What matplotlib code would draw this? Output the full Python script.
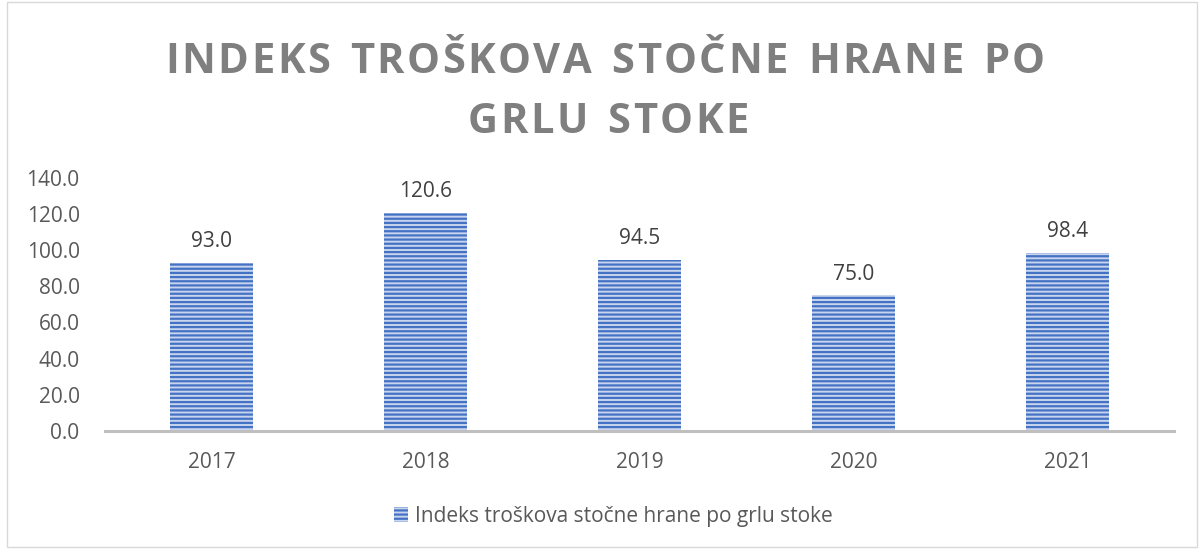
import matplotlib
matplotlib.use("Agg")
import matplotlib.pyplot as plt
from matplotlib.patches import Rectangle
from matplotlib.transforms import IdentityTransform

years = ["2017", "2018", "2019", "2020", "2021"]
values = [93.0, 120.6, 94.5, 75.0, 98.4]
series_name = "Indeks troškova stočne hrane po grlu stoke"
title_lines = ["INDEKS TROŠKOVA STOČNE HRANE PO", "GRLU STOKE"]

plt.rcParams["font.family"] = ["Open Sans", "DejaVu Sans"]
plt.rcParams["hatch.linewidth"] = 1.6
plt.rcParams["hatch.color"] = "#4472C4"

fig = plt.figure(figsize=(12.02, 5.49), dpi=100)
ax = fig.add_axes([0.087, 0.215, 0.89, 0.461])

ax.bar(range(len(years)), values, width=0.39, color="#C9D5EE",
       edgecolor="#4472C4", linewidth=0, hatch="----", label=series_name)
for i, v in enumerate(values):
    ax.text(i, v + 6, f"{v:.1f}", ha="center", va="bottom",
            fontsize=15, color="#404040")

ax.set_xlim(-0.5, len(years) - 0.5)
ax.set_ylim(0, 140)
ax.set_yticks(range(0, 141, 20))
ax.set_yticklabels([f"{t:.1f}" for t in range(0, 141, 20)])
ax.set_xticks(range(len(years)))
ax.set_xticklabels(years)
ax.tick_params(axis="both", length=0, labelsize=15, labelcolor="#595959")
ax.tick_params(axis="x", pad=15)
ax.tick_params(axis="y", pad=18)
for s in ["top", "right", "left"]:
    ax.spines[s].set_visible(False)
ax.spines["bottom"].set_color("#BFBFBF")
ax.spines["bottom"].set_linewidth(2.2)

# title with wide letter spacing, drawn char by char in pixel coords
renderer = fig.canvas.get_renderer()
title_kw = dict(fontsize=30, fontweight="bold", color="#7F7F7F")


def char_widths(s):
    ws = []
    for ch in s:
        t = fig.text(0, 0, ch if ch != " " else "n", **title_kw)
        w = t.get_window_extent(renderer).width
        t.remove()
        ws.append(w * (0.55 if ch == " " else 1.0))
    return ws


w1 = char_widths(title_lines[0])
spacing = (880 - sum(w1)) / (len(w1) - 1)
for line, base_y, cx in [(title_lines[0], 549 - 73, 605), (title_lines[1], 549 - 133, 608)]:
    ws = char_widths(line)
    total = sum(ws) + spacing * (len(ws) - 1)
    x = cx - total / 2
    for ch, w in zip(line, ws):
        fig.text(x, base_y, ch, transform=IdentityTransform(), ha="left",
                 va="baseline", **title_kw)
        x += w + spacing

leg = fig.legend(loc="center", bbox_to_anchor=(0.51, 0.06), frameon=False,
                 fontsize=15, handlelength=0.7, handleheight=0.7,
                 handletextpad=0.3)
for t in leg.get_texts():
    t.set_color("#595959")

fig.patches.append(Rectangle((0.006, 0.004), 0.99, 0.993, transform=fig.transFigure,
                             fill=False, edgecolor="#D9D9D9", linewidth=1))

fig.savefig("out.png", dpi=100)
plt.close(fig)
